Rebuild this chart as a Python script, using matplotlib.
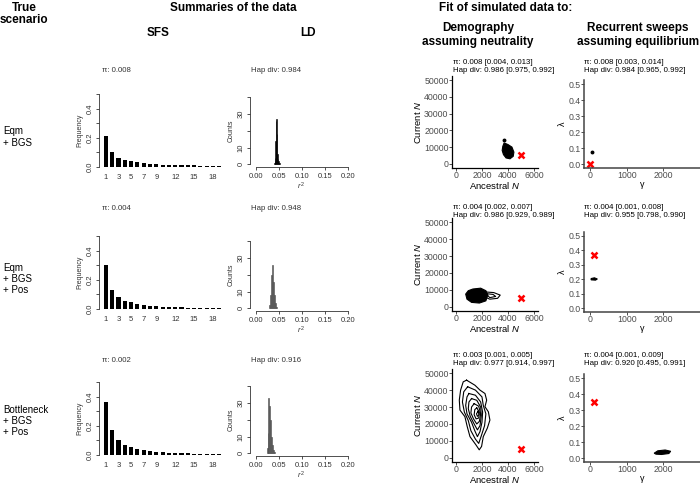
import numpy as np
import matplotlib
matplotlib.use('Agg')
import matplotlib.pyplot as plt

plt.rcParams['font.family'] = ['Liberation Sans', 'DejaVu Sans']
plt.rcParams['mathtext.fontset'] = 'custom'
plt.rcParams['mathtext.rm'] = 'Liberation Sans'
plt.rcParams['mathtext.it'] = 'Liberation Sans:italic'

#---------------- data ----------------
scenarios = ['Eqm\n+ BGS', 'Eqm\n+ BGS\n+ Pos', 'Bottleneck\n+ BGS\n+ Pos']

sfs_classes = list(range(1, 20))
sfs_ticks = [1, 3, 5, 7, 9, 12, 15, 18]
sfs_eqm_bgs = [0.21, 0.10, 0.065, 0.048, 0.038, 0.031, 0.026, 0.022, 0.019, 0.017,
               0.015, 0.014, 0.013, 0.012, 0.011, 0.010, 0.009, 0.009, 0.008]
sfs_eqm_bgs_pos = [0.30, 0.13, 0.08, 0.057, 0.045, 0.035, 0.026, 0.021, 0.018, 0.015,
                   0.013, 0.012, 0.011, 0.010, 0.009, 0.008, 0.007, 0.007, 0.006]
sfs_bott_bgs_pos = [0.36, 0.17, 0.10, 0.07, 0.053, 0.04, 0.032, 0.026, 0.021, 0.018,
                    0.015, 0.013, 0.012, 0.011, 0.010, 0.009, 0.008, 0.008, 0.007]

ld_edges_1 = [0.040, 0.041, 0.042, 0.043, 0.044, 0.045, 0.046, 0.047, 0.048, 0.049, 0.050, 0.051, 0.052]
ld_counts_1 = [1, 2, 4, 14, 26, 27, 18, 6, 3, 2, 1, 0.5]
ld_edges_2 = [0.030, 0.032, 0.034, 0.036, 0.038, 0.040, 0.042, 0.044, 0.046]
ld_counts_2 = [2, 8, 20, 26, 16, 8, 3, 1]
ld_edges_3 = [0.024, 0.026, 0.028, 0.030, 0.032, 0.034, 0.036, 0.038, 0.040, 0.042]
ld_counts_3 = [3, 12, 33, 28, 20, 10, 5, 2, 1]

pi_obs = ['π: 0.008', 'π: 0.004', 'π: 0.002']
hd_obs = ['Hap div: 0.984', 'Hap div: 0.948', 'Hap div: 0.916']
demo_titles = ['π: 0.008 [0.004, 0.013]\nHap div: 0.986 [0.975, 0.992]',
               'π: 0.004 [0.002, 0.007]\nHap div: 0.986 [0.929, 0.989]',
               'π: 0.003 [0.001, 0.005]\nHap div: 0.977 [0.914, 0.997]']
sweep_titles = ['π: 0.008 [0.003, 0.014]\nHap div: 0.984 [0.965, 0.992]',
                'π: 0.004 [0.001, 0.008]\nHap div: 0.955 [0.798, 0.990]',
                'π: 0.004 [0.001, 0.009]\nHap div: 0.920 [0.495, 0.991]']

# true parameter values (red crosses)
demo_true_anc = [5000, 5000, 5000]
demo_true_cur = [5000, 5000, 5000]
sweep_true_gamma = [0, 100, 100]
sweep_true_lambda = [0.0, 0.37, 0.35]

# posterior density outlines (ancestral N, current N)
demo_blobs = [
    [[(3700, 12500), (4000, 11500), (4300, 10000), (4450, 7000), (4400, 4500), (4150, 3000),
      (3850, 3500), (3650, 5500), (3550, 8000), (3600, 10500)]],
    [[(1300, 10500), (1900, 11000), (2300, 9500), (2450, 7000), (2300, 3500), (1800, 2200),
      (1200, 2600), (850, 4500), (750, 7500), (950, 9500)]],
    [],
]
demo_rings = [
    [],
    [[(2200, 8800), (2900, 8400), (3400, 6900), (3200, 5000), (2600, 4500), (2300, 5500)],
     [(2300, 7800), (2850, 7300), (3050, 6100), (2600, 5400)]],
    [[(820, 45900), (1460, 42900), (1850, 40000), (2230, 38000), (2360, 34100), (2230, 30200),
      (2490, 27200), (2610, 22300), (2410, 17500), (2100, 12500), (1970, 6700), (1790, 4700),
      (1540, 7600), (1080, 12500), (870, 18400), (690, 24300), (310, 28200), (260, 34100),
      (360, 40000), (560, 44900)],
     [(900, 42000), (1500, 40000), (2000, 36000), (2100, 31000), (2300, 26000), (2200, 19000),
      (1950, 13000), (1750, 8500), (1500, 11000), (1150, 16000), (950, 22000), (650, 27000),
      (500, 33000), (600, 39000)],
     [(1000, 38000), (1500, 37000), (1900, 33000), (2050, 27000), (2000, 21000), (1850, 15500),
      (1650, 12500), (1450, 16000), (1200, 21000), (850, 26000), (750, 31000), (850, 36000)],
     [(1200, 35000), (1600, 34000), (1900, 30000), (1950, 25000), (1850, 19000), (1650, 16500),
      (1400, 20000), (1100, 24500), (950, 29000), (1000, 33000)],
     [(1400, 32000), (1750, 30500), (1900, 26000), (1800, 21500), (1600, 20000), (1350, 23000),
      (1150, 26500), (1200, 30000)],
     [(1600, 29500), (1800, 27000), (1750, 23500), (1550, 23000), (1400, 25500), (1450, 28500)],
     [(1700, 27500), (1780, 25500), (1650, 24500), (1580, 26000)]],
]
demo_dots_anc = [[3700], [], []]
demo_dots_cur = [[14000], [], []]

# posterior outlines (gamma, lambda)
sweep_blobs = [
    [],
    [[(30, 0.205), (120, 0.21), (200, 0.202), (150, 0.194), (30, 0.196)]],
    [[(1750, 0.03), (1850, 0.045), (2050, 0.05), (2200, 0.042), (2150, 0.028), (1950, 0.022),
      (1800, 0.024)]],
]
sweep_dots_gamma = [[50], [], []]
sweep_dots_lambda = [[0.077], [], []]

#---------------- layout (pixels) ----------------
W, H = 700, 490
fig = plt.figure(figsize=(7, 4.9), dpi=100)


def box(l, t, r, b):
    return fig.add_axes([l / W, 1 - b / H, (r - l) / W, (b - t) / H])


def ftext(x, y, s, **kw):
    fig.text(x / W, 1 - y / H, s, **kw)


sfs_base = [167, 309, 455]
ld_base = [167, 311, 456]
demo_box = [(76, 168), (218, 311), (369, 462)]
sweep_box = [(80, 168), (232, 312), (374, 462)]
title_y = [70, 208, 360]
gg_title_y = [67, 211, 359]
label_y = [137, 279, 421]
sfs_data = [sfs_eqm_bgs, sfs_eqm_bgs_pos, sfs_bott_bgs_pos]
ld_data = [(ld_edges_1, ld_counts_1, 'black', 'black'),
           (ld_edges_2, ld_counts_2, '#808080', '#404040'),
           (ld_edges_3, ld_counts_3, '#808080', '#404040')]

# headers
ftext(24, 8, 'True', fontsize=8.5, fontweight='bold', ha='center', va='center')
ftext(24, 20, 'scenario', fontsize=8.5, fontweight='bold', ha='center', va='center')
ftext(233, 8, 'Summaries of the data', fontsize=8.5, fontweight='bold', ha='center', va='center')
ftext(158, 33, 'SFS', fontsize=8.5, fontweight='bold', ha='center', va='center')
ftext(308, 33, 'LD', fontsize=8.5, fontweight='bold', ha='center', va='center')
ftext(506, 8, 'Fit of simulated data to:', fontsize=8.5, fontweight='bold', ha='center', va='center')
ftext(478, 28, 'Demography', fontsize=8.5, fontweight='bold', ha='center', va='center')
ftext(478, 42, 'assuming neutrality', fontsize=8.5, fontweight='bold', ha='center', va='center')
ftext(638, 28, 'Recurrent sweeps', fontsize=8.5, fontweight='bold', ha='center', va='center')
ftext(638, 42, 'assuming equilibrium', fontsize=8.5, fontweight='bold', ha='center', va='center')

for i in range(3):
    ftext(3, label_y[i], scenarios[i], fontsize=7, ha='left', va='center', linespacing=1.15)

    # ---- SFS (R barplot style)
    b = sfs_base[i]
    ax = box(99, b - 0.52 * 146, 225, b + 0.02 * 146)
    ax.bar(sfs_classes, sfs_data[i], width=0.65, color='black')
    ax.set_xlim(-0.1, 19.9)
    ax.set_ylim(-0.02, 0.52)
    for s in ['top', 'right', 'bottom']:
        ax.spines[s].set_visible(False)
    ax.spines['left'].set_bounds(0, 0.5)
    ax.spines['left'].set_linewidth(0.6)
    ax.spines['left'].set_color('#333333')
    ax.set_yticks([0, 0.1, 0.2, 0.3, 0.4, 0.5])
    ax.set_yticklabels(['0.0', '', '0.2', '', '0.4', ''], rotation=90, va='center')
    ax.set_xticks(sfs_ticks)
    ax.set_xticklabels([str(t) for t in sfs_ticks])
    ax.tick_params(axis='y', length=2.5, width=0.6, labelsize=5.5, colors='#333333', pad=1.5)
    ax.tick_params(axis='x', length=0, labelsize=5.5, colors='#333333', pad=3)
    ax.set_ylabel('Frequency', fontsize=5, color='#333333', labelpad=2)
    ax.patch.set_alpha(0)
    ftext(102, title_y[i], pi_obs[i], fontsize=5.6, color='#333333', va='center')

    # ---- LD histogram
    lb = ld_base[i]
    ax = box(250, lb - 43.2 * 1.675, 351.7, lb)
    edges, counts, fc, ec = ld_data[i]
    ax.bar(edges[:-1], counts, width=np.diff(edges), align='edge', color=fc,
           edgecolor=ec, linewidth=0.4)
    ax.set_xlim(-0.012, 0.208)
    ax.set_ylim(-1.6, 41.6)
    for s in ['top', 'right']:
        ax.spines[s].set_visible(False)
    ax.spines['left'].set_bounds(0, 40)
    ax.spines['bottom'].set_bounds(0, 0.2)
    for s in ['left', 'bottom']:
        ax.spines[s].set_linewidth(0.6)
        ax.spines[s].set_color('#333333')
    ax.set_xticks([0, 0.05, 0.1, 0.15, 0.2])
    ax.set_xticklabels(['0.00', '0.05', '0.10', '0.15', '0.20'])
    ax.set_yticks([0, 10, 20, 30, 40])
    ax.set_yticklabels(['0', '10', '', '30', ''], rotation=90, va='center')
    ax.tick_params(length=2.5, width=0.6, labelsize=5.5, colors='#333333', pad=1.5)
    ax.set_xlabel('$\\it{r}^2$', fontsize=5.5, color='#333333', labelpad=1)
    ax.set_ylabel('Counts', fontsize=5, color='#333333', labelpad=2)
    ax.patch.set_alpha(0)
    ftext(251, title_y[i], hd_obs[i], fontsize=5.6, color='#333333', va='center')

    # ---- Demography fit (ggplot classic style)
    t, bt = demo_box[i]
    ax = box(452, t, 538, bt)
    for blob in demo_blobs[i]:
        xs, ys = zip(*blob)
        ax.fill(xs, ys, color='black', lw=0.8)
    for ring in demo_rings[i]:
        xs, ys = zip(*ring)
        ax.plot(list(xs) + [xs[0]], list(ys) + [ys[0]], color='black', lw=0.8)
    ax.plot(demo_dots_anc[i], demo_dots_cur[i], 'o', color='black', ms=1.8)
    ax.plot(demo_true_anc[i], demo_true_cur[i], marker='x', color='red', ms=5, mew=1.8)
    ax.set_xlim(-300, 6300)
    ax.set_ylim(-2500, 52500)
    ax.set_xticks([0, 2000, 4000, 6000])
    ax.set_yticks([0, 10000, 20000, 30000, 40000, 50000])
    for s in ['top', 'right']:
        ax.spines[s].set_visible(False)
    for s in ['left', 'bottom']:
        ax.spines[s].set_linewidth(0.9)
    ax.tick_params(length=2, width=0.6, labelsize=6.3, labelcolor='#4d4d4d', color='#333333', pad=0.5)
    ax.set_xlabel('Ancestral $\\it{N}$', fontsize=6.8, labelpad=0)
    ax.set_ylabel('Current $\\it{N}$', fontsize=6.8, labelpad=1)
    ax.patch.set_alpha(0)
    ftext(453, gg_title_y[i], demo_titles[i], fontsize=5.7, va='center', linespacing=1.2)

    # ---- Recurrent sweeps fit
    t, bt = sweep_box[i]
    ax = box(584, t, 700, bt)
    for blob in sweep_blobs[i]:
        xs, ys = zip(*blob)
        ax.fill(xs, ys, color='black', lw=0.8)
    ax.plot(sweep_dots_gamma[i], sweep_dots_lambda[i], 'o', color='black', ms=1.8)
    ax.plot(sweep_true_gamma[i], sweep_true_lambda[i], marker='x', color='red', ms=5, mew=1.8,
            clip_on=False)
    ax.set_xlim(-164, 3000)
    ax.set_ylim(-0.025, 0.525)
    ax.set_xticks([0, 1000, 2000])
    ax.set_yticks([0, 0.1, 0.2, 0.3, 0.4, 0.5])
    ax.set_yticklabels(['0.0', '0.1', '0.2', '0.3', '0.4', '0.5'])
    for s in ['top', 'right']:
        ax.spines[s].set_visible(False)
    for s in ['left', 'bottom']:
        ax.spines[s].set_linewidth(1.1)
        ax.spines[s].set_color('#444444')
    ax.tick_params(length=2, width=0.6, labelsize=6.3, labelcolor='#4d4d4d', color='#333333', pad=0.5)
    ax.set_xlabel('γ', fontsize=6.5, labelpad=0)
    ax.set_ylabel('λ', fontsize=6.5, labelpad=1)
    ax.patch.set_alpha(0)
    ftext(584, gg_title_y[i], sweep_titles[i], fontsize=5.7, va='center', linespacing=1.2)

fig.savefig('out.png', dpi=100)
